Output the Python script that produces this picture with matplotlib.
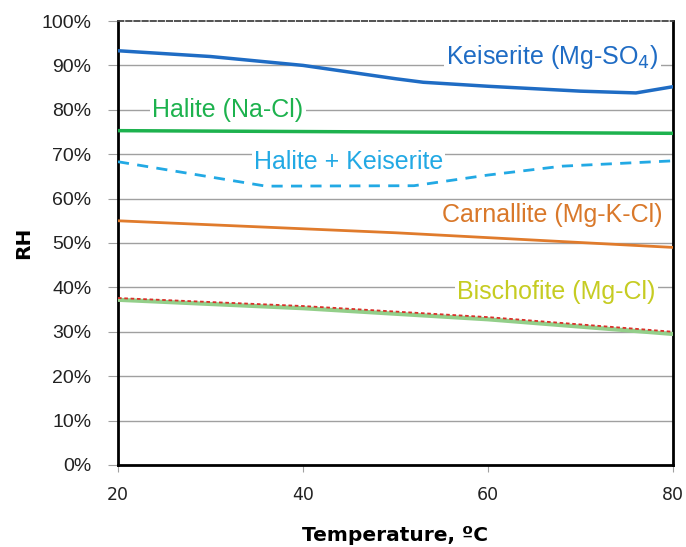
import matplotlib
matplotlib.use("Agg")
import matplotlib.pyplot as plt
from matplotlib.ticker import FuncFormatter

# Data (temperature in ºC, RH in %)
kies_t = [20, 30, 40, 50, 53, 60, 70, 76, 80]
kies_rh = [93.3, 92.0, 90.0, 87.0, 86.2, 85.3, 84.2, 83.8, 85.2]

halite_t = [20, 50, 80]
halite_rh = [75.3, 75.0, 74.7]

hk_t = [20, 36, 52, 60, 68, 80]
hk_rh = [68.3, 62.8, 62.9, 65.3, 67.3, 68.5]

carn_t = [20, 50, 80]
carn_rh = [55.0, 52.3, 49.0]

bisch_t = [20, 40, 60, 80]
bisch_rh = [37.2, 35.3, 32.8, 29.5]

bisch2_t = [20, 40, 60, 80]
bisch2_rh = [37.6, 35.8, 33.3, 30.0]

x_ticks = [20, 40, 60, 80]
y_ticks = [0, 10, 20, 30, 40, 50, 60, 70, 80, 90, 100]

fig = plt.figure(figsize=(6.86, 5.47), dpi=100)
ax = fig.add_axes([0.172, 0.150, 0.809, 0.8116])

for y in y_ticks[1:-1]:
    ax.axhline(y, color="#a0a0a0", lw=1.0, zorder=1)

ax.plot(kies_t, kies_rh, color="#1f6cc4", lw=2.5, zorder=3)
ax.plot(halite_t, halite_rh, color="#1db24e", lw=2.5, zorder=3)
ax.plot(hk_t, hk_rh, color="#22a9e4", lw=2.0, ls=(0, (4, 3)), zorder=3)
ax.plot(carn_t, carn_rh, color="#e07b2c", lw=2.0, zorder=3)
ax.plot(bisch_t, bisch_rh, color="#93cf8a", lw=3.0, zorder=3)
ax.plot(bisch2_t, bisch2_rh, color="#d9302a", lw=1.3, ls=(0, (2, 1.5)), zorder=4)

ax.set_xlim(20, 80)
ax.set_ylim(0, 100)
ax.set_xticks(x_ticks)
ax.set_yticks(y_ticks)
ax.yaxis.set_major_formatter(FuncFormatter(lambda v, p: f"{int(v)}%"))

tfont = "Liberation Sans"
for lab in ax.get_yticklabels():
    lab.set_fontfamily(tfont)
    lab.set_fontsize(14)
    lab.set_color("#222222")
for lab in ax.get_xticklabels():
    lab.set_fontfamily("DejaVu Sans")
    lab.set_fontsize(12.5)
    lab.set_color("#222222")
ax.tick_params(axis="y", length=7, color="#a0a0a0", pad=12)
ax.tick_params(axis="x", length=5, color="#a0a0a0", pad=10, direction="out")

for s in ["left", "bottom", "right"]:
    ax.spines[s].set_linewidth(2.0)
    ax.spines[s].set_color("black")
ax.spines["top"].set_color("#444444")
ax.spines["top"].set_linewidth(1.3)
ax.spines["top"].set_linestyle((0, (3, 1.5)))

ax.set_ylabel("RH", fontsize=14.5, fontweight="bold", fontfamily="DejaVu Sans", labelpad=6)
ax.set_xlabel("Temperature, ºC", fontsize=14.5, fontweight="bold", fontfamily="DejaVu Sans", labelpad=16)

bb = dict(facecolor="white", edgecolor="none", pad=1.5)
fs = 18
ax.text(67.0, 91.8, "Keiserite (Mg-SO$_4$)", color="#1f6cc4", fontsize=fs, fontfamily=tfont,
        ha="center", va="center", bbox=bb, zorder=5)
ax.text(31.9, 80.0, "Halite (Na-Cl)", color="#1db24e", fontsize=fs, fontfamily=tfont,
        ha="center", va="center", bbox=bb, zorder=5)
ax.text(44.9, 68.2, "Halite + Keiserite", color="#22a9e4", fontsize=fs, fontfamily=tfont,
        ha="center", va="center", bbox=bb, zorder=5)
ax.text(67.0, 56.3, "Carnallite (Mg-K-Cl)", color="#d9782a", fontsize=fs, fontfamily=tfont,
        ha="center", va="center", bbox=bb, zorder=5)
ax.text(67.4, 39.0, "Bischofite (Mg-Cl)", color="#c6cc22", fontsize=fs, fontfamily=tfont,
        ha="center", va="center", bbox=bb, zorder=5)

fig.savefig("out.png", dpi=100)
